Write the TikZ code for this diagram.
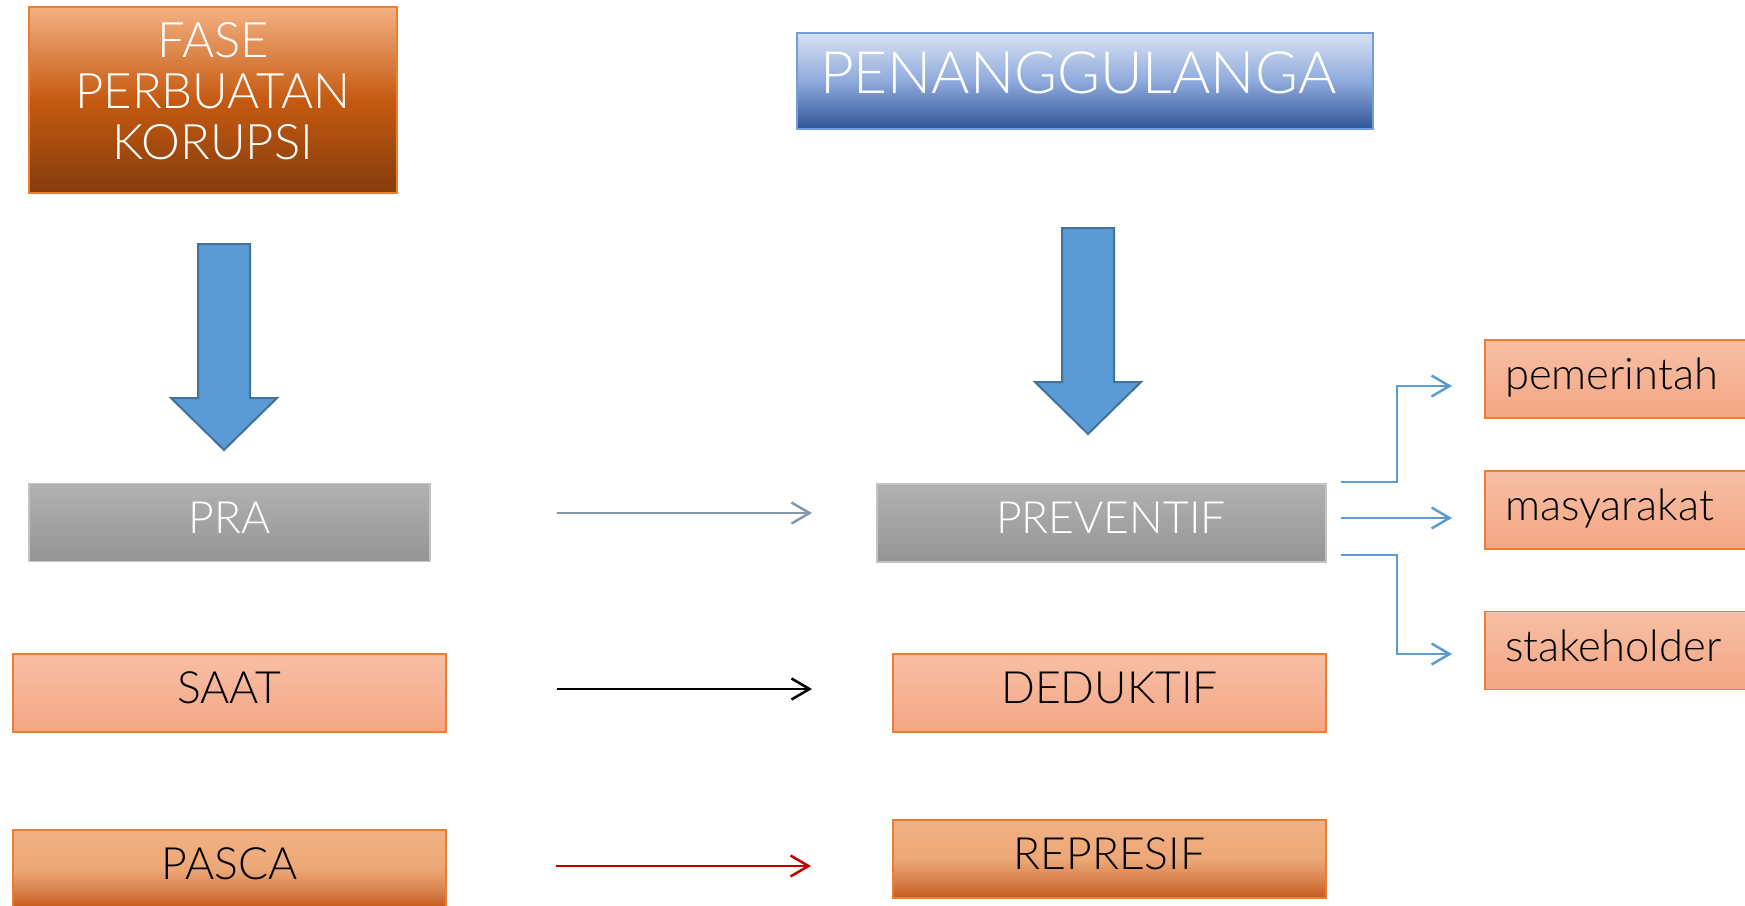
\documentclass[tikz,border=0pt]{standalone}
\usepackage{fontspec}
\setmainfont{Lato Light}
\newfontfamily\lightfont{Lato Light}
\usetikzlibrary{arrows.meta}
\definecolor{arrowblue}{HTML}{5B9BD5}
\definecolor{arrowedge}{HTML}{41719C}
\definecolor{boxorange}{HTML}{ED7D31}
\definecolor{graytop}{HTML}{B1B1B1}
\definecolor{graybot}{HTML}{959595}
\definecolor{grayedge}{HTML}{C4C4C4}
\definecolor{salmontop}{HTML}{F7BFA5}
\definecolor{salmonbot}{HTML}{F4A683}
\definecolor{darklt}{HTML}{F2B284}
\definecolor{darkmdb}{HTML}{ECA777}
\definecolor{darkmda}{HTML}{D98350}
\definecolor{darkdk}{HTML}{C55A1C}
\definecolor{fasetop}{HTML}{F4B183}
\definecolor{fasemid}{HTML}{C55A11}
\definecolor{fasebot}{HTML}{843C0C}
\definecolor{pentop}{HTML}{D9E2F3}
\definecolor{penmid}{HTML}{8FAADC}
\definecolor{penbot}{HTML}{2F5597}
\definecolor{titleedge}{HTML}{6FA0DC}
\definecolor{steelarrow}{HTML}{8497B0}
\definecolor{redarrow}{HTML}{C00000}
\pgfdeclareverticalshading{pascash}{100bp}{color(0bp)=(darkdk); color(25bp)=(darkdk); color(37bp)=(darkmda); color(50bp)=(darkmdb); color(75bp)=(darklt); color(100bp)=(darklt)}
\begin{document}
\begin{tikzpicture}[x=1pt,y=-1pt,
  every node/.style={inner sep=0pt, outer sep=0pt},
  boxline/.style={line width=1.5pt},
  graybox/.style={draw=grayedge, boxline, top color=graytop, bottom color=graybot, text=white,
    font=\lightfont\fontsize{44.5}{52}\selectfont, text height=31pt, text depth=10pt, minimum height=78pt},
  salmonbox/.style={draw=boxorange, boxline, top color=salmontop, bottom color=salmonbot, text=black,
    font=\fontsize{44.5}{52}\selectfont, text height=31pt, text depth=10pt, minimum height=78pt},
  darkbox/.style={draw=boxorange, boxline, shade, shading=pascash, text=black,
    font=\fontsize{44.5}{52}\selectfont, text height=31pt, text depth=10pt, minimum height=78pt},
  sidebox/.style={salmonbox, font=\fontsize{43.5}{50}\selectfont, minimum width=300pt, anchor=west},
  flow/.style={line width=2.5pt, -{Straight Barb[length=18pt,width=21pt]}},
  fan/.style={flow, draw=arrowblue},
  blockarrow/.style={fill=arrowblue, draw=arrowedge, line width=2pt, line join=miter},
]
\useasboundingbox (0,0) rectangle (1745,905);
\clip (0,0) rectangle (1745,905);

% title boxes
\node[draw=boxorange, boxline, top color=fasetop, bottom color=fasebot, middle color=fasemid,
  minimum width=368pt, minimum height=186pt] (fase) at (213,100) {};
\node[text=white, font=\lightfont\fontsize{49}{51}\selectfont, align=center, anchor=base]
  (fasetext) at (213,159) {FASE\\PERBUATAN\\KORUPSI};

\node[draw=titleedge, boxline, top color=pentop, bottom color=penbot, middle color=penmid,
  minimum width=576pt, minimum height=96pt, text=white, font=\lightfont\fontsize{58.5}{66}\selectfont,
  text height=41pt, text depth=17pt] (pen) at (1085,81) {\makebox[530pt][l]{PENANGGULANGA}};

% block arrows
\draw[blockarrow] (198,244) -- (250,244) -- (250,398) -- (277,398) -- (224,450) -- (171,398) -- (198,398) -- cycle;
\draw[blockarrow] (1062,228) -- (1114,228) -- (1114,382) -- (1141,382) -- (1088,434) -- (1035,382) -- (1062,382) -- cycle;

% left column
\node[graybox, minimum width=401pt] (pra) at (229.5,522.5) {PRA};
\node[salmonbox, minimum width=433pt] (saat) at (229.5,693) {SAAT};
\node[darkbox, minimum width=433pt] (pasca) at (229.5,869) {PASCA};

% middle column
\node[graybox, minimum width=449pt] (prev) at (1101.5,523) {\hspace*{19pt}PREVENTIF};
\node[salmonbox, minimum width=433pt] (dedu) at (1109.5,693) {DEDUKTIF};
\node[darkbox, minimum width=433pt] (repr) at (1109.5,859) {REPRESIF};

% right column
\node[sidebox] (pem) at (1485,379) {\makebox[260pt][l]{pemerintah}};
\node[sidebox] (masy) at (1485,510) {\makebox[260pt][l]{masyarakat}};
\node[sidebox] (stake) at (1485,650.5) {\makebox[260pt][l]{stakeholder}};

% connectors
\draw[flow, draw=steelarrow] ([xshift=127pt,yshift=9.5pt]pra.east) -- ([xshift=-65pt,yshift=10pt]prev.west);
\draw[flow, draw=black] ([xshift=111pt,yshift=4pt]saat.east) -- ([xshift=-81pt,yshift=4pt]dedu.west);
\draw[flow, draw=redarrow] ([xshift=110pt,yshift=3pt]pasca.east) -- ([xshift=-82pt,yshift=-7pt]repr.west);

\draw[fan] ([xshift=15pt,yshift=41pt]prev.east) -- ++(56,0) |- ([xshift=-33pt,yshift=-7pt]pem.west);
\draw[fan] ([xshift=15pt,yshift=5pt]prev.east) -- ([xshift=-33pt,yshift=-8pt]masy.west);
\draw[fan] ([xshift=15pt,yshift=-32pt]prev.east) -- ++(56,0) |- ([xshift=-33pt,yshift=-3.5pt]stake.west);
\end{tikzpicture}
\end{document}
